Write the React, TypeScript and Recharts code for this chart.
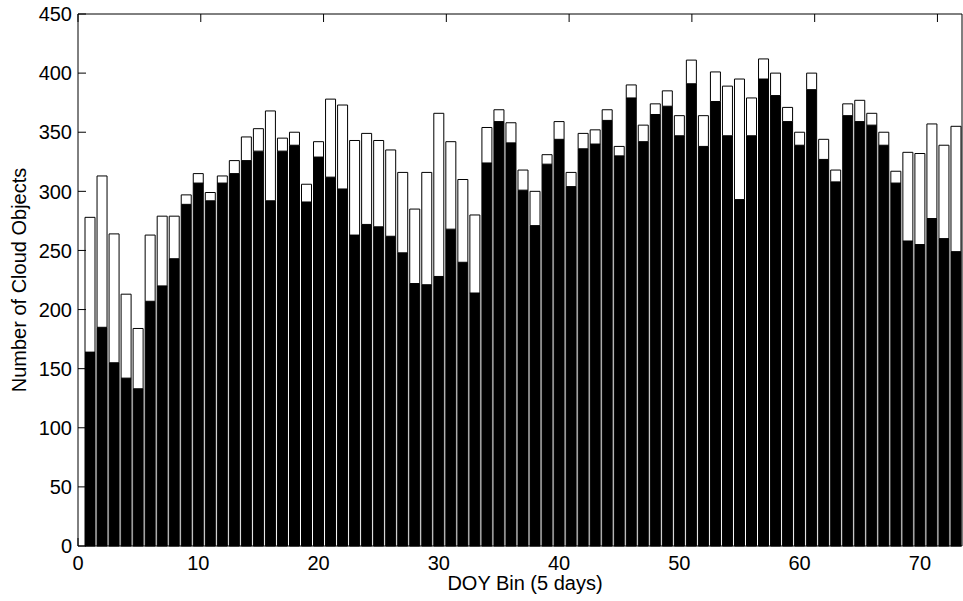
import { BarChart, Bar, XAxis, YAxis } from "recharts";

// DOY bins (5 days each)
const bins = [
  1, 2, 3, 4, 5, 6, 7, 8, 9, 10, 11, 12, 13, 14, 15, 16, 17, 18, 19, 20,
  21, 22, 23, 24, 25, 26, 27, 28, 29, 30, 31, 32, 33, 34, 35, 36, 37, 38, 39, 40,
  41, 42, 43, 44, 45, 46, 47, 48, 49, 50, 51, 52, 53, 54, 55, 56, 57, 58, 59, 60,
  61, 62, 63, 64, 65, 66, 67, 68, 69, 70, 71, 72, 73,
];

// white bars: all cloud objects per bin
const totalObjects = [
  278, 313, 264, 213, 184, 263, 279, 279, 297, 315, 299, 313, 326, 346, 353, 368, 345, 350, 306, 342,
  378, 373, 343, 349, 343, 335, 316, 285, 316, 366, 342, 310, 280, 354, 369, 358, 318, 300, 331, 359,
  316, 349, 352, 369, 338, 390, 356, 374, 385, 364, 411, 364, 401, 389, 395, 379, 412, 400, 371, 350,
  400, 344, 318, 374, 377, 366, 350, 317, 333, 332, 357, 339, 355,
];

// black bars: subset per bin
const blackObjects = [
  164, 185, 155, 142, 133, 207, 220, 243, 289, 307, 292, 307, 315, 326, 334, 292, 334, 339, 291, 329,
  312, 302, 263, 272, 270, 262, 248, 222, 221, 228, 268, 240, 214, 324, 359, 341, 301, 271, 323, 344,
  304, 336, 340, 360, 330, 379, 342, 365, 372, 347, 391, 338, 376, 347, 293, 347, 395, 381, 359, 339,
  386, 327, 308, 364, 359, 356, 339, 307, 258, 255, 277, 260, 249,
];

const xTicks = [0, 10, 20, 30, 40, 50, 60, 70];
const yTicks = [0, 50, 100, 150, 200, 250, 300, 350, 400, 450];

const data = bins.map((bin, i) => ({
  bin,
  black: blackObjects[i],
  rest: totalObjects[i] - blackObjects[i],
}));

const FONT = '"Liberation Sans", Arial, Helvetica, sans-serif';
const FS = 20;
const TICK = 8;

function BottomTick({ x, y, payload }: any) {
  return (
    <g>
      <line x1={x} x2={x} y1={y} y2={y - TICK} stroke="#000" />
      <text x={x} y={y + 24} textAnchor="middle" fontSize={FS} fontFamily={FONT} fill="#000">
        {payload.value}
      </text>
    </g>
  );
}

function TopTick({ x, y }: any) {
  return <line x1={x} x2={x} y1={y} y2={y + TICK} stroke="#000" />;
}

function LeftTick({ x, y, payload }: any) {
  return (
    <g>
      <line x1={x} x2={x + TICK} y1={y} y2={y} stroke="#000" />
      <text x={x - 6} y={y} dy="0.36em" textAnchor="end" fontSize={FS} fontFamily={FONT} fill="#000">
        {payload.value}
      </text>
    </g>
  );
}

function RightTick({ x, y }: any) {
  return <line x1={x} x2={x - TICK} y1={y} y2={y} stroke="#000" />;
}

export default function App() {
  return (
    <div style={{ position: "absolute", left: 0, top: 0, background: "#fff" }}>
      <BarChart
        width={963}
        height={601}
        data={data}
        margin={{ top: 0, right: 0, bottom: 0, left: 0 }}
      >
        <XAxis
          dataKey="bin"
          type="number"
          domain={[0, 73.5]}
          ticks={xTicks}
          interval={0}
          height={55}
          tickSize={0}
          tickMargin={0}
          tick={<BottomTick />}
          axisLine={{ stroke: "#000" }}
          label={{
            content: ({ viewBox }: any) => (
              <text
                x={viewBox.x + viewBox.width / 2 + 5}
                y={590}
                textAnchor="middle"
                fontSize={FS}
                fontFamily={FONT}
                fill="#000"
              >
                DOY Bin (5 days)
              </text>
            ),
          }}
        />
        <XAxis
          xAxisId="top"
          orientation="top"
          type="number"
          domain={[0, 73.5]}
          ticks={xTicks}
          interval={0}
          height={14}
          tickSize={0}
          tickMargin={0}
          tick={<TopTick />}
          axisLine={{ stroke: "#000" }}
        />
        <YAxis
          type="number"
          domain={[0, 450]}
          ticks={yTicks}
          interval={0}
          width={78}
          tickSize={0}
          tickMargin={0}
          tick={<LeftTick />}
          axisLine={{ stroke: "#000" }}
          label={{
            content: ({ viewBox }: any) => (
              <text
                transform={`translate(${viewBox.x + 19}, ${viewBox.y + viewBox.height / 2}) rotate(-90)`}
                textAnchor="middle"
                dominantBaseline="central"
                fontSize={FS}
                fontFamily={FONT}
                fill="#000"
              >
                Number of Cloud Objects
              </text>
            ),
          }}
        />
        <YAxis
          yAxisId="right"
          orientation="right"
          type="number"
          domain={[0, 450]}
          ticks={yTicks}
          interval={0}
          width={1}
          tickSize={0}
          tickMargin={0}
          tick={<RightTick />}
          axisLine={{ stroke: "#000" }}
        />
        <Bar
          dataKey="black"
          stackId="s"
          fill="#000"
          stroke="#000"
          strokeWidth={1}
          barSize={10}
          isAnimationActive={false}
        />
        <Bar
          dataKey="rest"
          stackId="s"
          fill="#fff"
          stroke="#000"
          strokeWidth={1}
          barSize={10}
          isAnimationActive={false}
        />
      </BarChart>
    </div>
  );
}
